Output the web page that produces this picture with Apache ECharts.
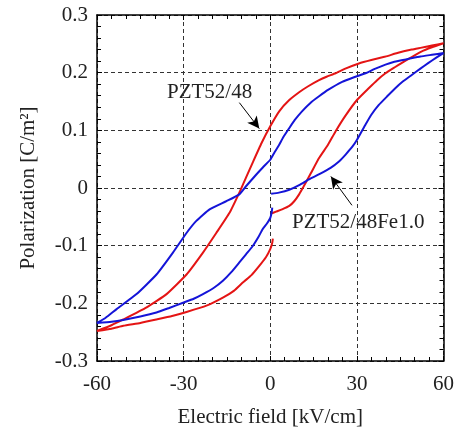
<!DOCTYPE html>
<html>
<head>
<meta charset="utf-8">
<script src="https://cdn.jsdelivr.net/npm/echarts@6/dist/echarts.min.js"></script>
<style>html,body{margin:0;padding:0;background:#fff;}#c{width:457px;height:433px;}</style>
</head>
<body>
<div id="c"></div>
<script>
// PZT52/48 (red) loop, measurement order
const redE = [0.5, 2, 4.1, 6.6, 8.3, 10, 11.5, 14, 16.9, 20, 22.6, 26, 30.1, 34.1, 37, 39.9, 43, 45.6, 49, 52.5, 56, 60,
  56, 52, 49, 44, 39.9, 35, 30.7, 26, 22.6, 19.5, 16.9, 13, 10, 6.5, 3.1, 0, -3, -6, -8.4, -10.7, -14.1, -18.7, -23.3, -29, -35.9, -42.8, -50.9, -55, -60,
  -55, -50.9, -45, -39.4, -34, -29, -22.1, -16.4, -12.5, -9.5, -6.5, -3.8, -1.5, 0, 0.7, 0.9];
const redP = [-0.044, -0.041, -0.037, -0.031, -0.023, -0.011, 0.002, 0.025, 0.052, 0.075, 0.098, 0.125, 0.153, 0.173, 0.187, 0.199, 0.209, 0.217, 0.227, 0.237, 0.244, 0.251,
  0.247, 0.243, 0.240, 0.234, 0.228, 0.222, 0.216, 0.207, 0.199, 0.193, 0.187, 0.176, 0.166, 0.152, 0.133, 0.107, 0.078, 0.045, 0.018, -0.008, -0.043, -0.078, -0.112, -0.150, -0.184, -0.207, -0.228, -0.238, -0.248,
  -0.244, -0.239, -0.234, -0.228, -0.222, -0.215, -0.204, -0.190, -0.178, -0.164, -0.151, -0.135, -0.120, -0.106, -0.095, -0.088];
// PZT52/48Fe1.0 (blue) loop, measurement order
const blueE = [0.3, 3, 6.6, 10, 13.4, 17, 20.9, 24, 26.1, 28.5, 30.1, 33, 35, 37.6, 40.5, 43.3, 46, 49, 52, 54.8, 57.5, 60,
  56, 52, 48, 43, 39.9, 36, 33, 29, 24.9, 20, 16.9, 14, 11, 8.5, 6.6, 4.5, 3.1, 1.5, 0, -2.5, -4.9, -8.4, -10.7, -15.3, -21, -25.6, -29, -33.7, -39.4, -46.3, -53.2, -57, -60,
  -55, -50.9, -45, -39.4, -35, -30.2, -26.5, -23.3, -19.5, -16.4, -13.5, -10.7, -8.4, -6.1, -4.2, -2.7, -1.2, 0, 0.5, 0.7];
const blueP = [-0.010, -0.008, -0.003, 0.005, 0.015, 0.024, 0.035, 0.047, 0.058, 0.072, 0.084, 0.110, 0.127, 0.144, 0.159, 0.173, 0.185, 0.196, 0.207, 0.217, 0.226, 0.234,
  0.231, 0.228, 0.224, 0.219, 0.214, 0.206, 0.199, 0.192, 0.184, 0.170, 0.159, 0.148, 0.133, 0.118, 0.104, 0.088, 0.075, 0.062, 0.049, 0.036, 0.023, 0.003, -0.011, -0.023, -0.037, -0.057, -0.078, -0.112, -0.150, -0.184, -0.210, -0.225, -0.234,
  -0.232, -0.229, -0.223, -0.216, -0.208, -0.199, -0.192, -0.184, -0.173, -0.161, -0.146, -0.129, -0.115, -0.101, -0.086, -0.072, -0.062, -0.052, -0.042, -0.034];
const xTicks = [-60, -30, 0, 30, 60];
const yTicks = [-0.3, -0.2, -0.1, 0, 0.1, 0.2, 0.3];
const labels = ['PZT52/48', 'PZT52/48Fe1.0'];
// arrows: [fromE, fromP, toE, toP]
const arrowRed = [-10.7, 0.148, -3.8, 0.103];
const arrowBlue = [28.3, -0.030, 21, 0.020];

const zip = (a, b) => a.map((v, i) => [v, b[i]]);
const FONT = '"Liberation Serif", "Times New Roman", serif';
const FS = 21;
const txt = '#222';

const chart = echarts.init(document.getElementById('c'), null, {renderer: 'canvas'});
const gridLine = {show: true, lineStyle: {color: '#333', width: 1, type: [4, 3]}};
const axisBase = (pos) => ({
  type: 'value', position: pos,
  axisLine: {show: true, onZero: false, lineStyle: {color: '#000', width: 1.5}},
  axisTick: {show: true, inside: true, length: 5, lineStyle: {color: '#000', width: 1}},
  minorSplitLine: {show: false}
});
const arrowLine = (a) => ({
  silent: true, symbol: ['none', 'arrow'], symbolSize: [9, 12],
  label: {show: false},
  lineStyle: {color: '#000', width: 1, type: 'solid'},
  data: [[{coord: [a[0], a[1]]}, {coord: [a[2], a[3]]}]]
});

chart.setOption({
  animation: false,
  backgroundColor: '#fff',
  grid: {left: 97, top: 15, right: 12, bottom: 71, containLabel: false},
  xAxis: [
    Object.assign(axisBase('bottom'), {
      min: xTicks[0], max: xTicks[xTicks.length - 1], interval: 30,
      minorTick: {show: true, splitNumber: 6, length: 4, lineStyle: {color: '#000'}},
      splitLine: gridLine,
      axisLabel: {color: txt, fontFamily: FONT, fontSize: FS, margin: 13},
      name: 'Electric field [kV/cm]', nameLocation: 'middle', nameGap: 46,
      nameTextStyle: {color: txt, fontFamily: FONT, fontSize: FS}
    }),
    Object.assign(axisBase('top'), {
      min: xTicks[0], max: xTicks[xTicks.length - 1], interval: 30,
      minorTick: {show: true, splitNumber: 6, length: 4, lineStyle: {color: '#000'}},
      splitLine: {show: false}, axisLabel: {show: false}
    })
  ],
  yAxis: [
    Object.assign(axisBase('left'), {
      min: yTicks[0], max: yTicks[yTicks.length - 1], interval: 0.1,
      minorTick: {show: true, splitNumber: 5, length: 4, lineStyle: {color: '#000'}},
      splitLine: gridLine,
      axisLabel: {color: txt, fontFamily: FONT, fontSize: FS, margin: 9,
        formatter: v => (Math.abs(v) < 1e-9 ? '0' : String(Math.round(v * 10) / 10))},
      name: 'Polarization [C/m²]', nameLocation: 'middle', nameGap: 58,
      nameTextStyle: {color: txt, fontFamily: FONT, fontSize: FS}
    }),
    Object.assign(axisBase('right'), {
      min: yTicks[0], max: yTicks[yTicks.length - 1], interval: 0.1,
      minorTick: {show: true, splitNumber: 5, length: 4, lineStyle: {color: '#000'}},
      splitLine: {show: false}, axisLabel: {show: false}
    })
  ],
  series: [
    {
      name: labels[0], type: 'line', xAxisIndex: 0, yAxisIndex: 0,
      data: zip(redE, redP), showSymbol: false, symbol: 'none', smooth: 0.15,
      lineStyle: {color: '#e41414', width: 2}, z: 3,
      markLine: arrowLine(arrowRed)
    },
    {
      name: labels[1], type: 'line', xAxisIndex: 0, yAxisIndex: 0,
      data: zip(blueE, blueP), showSymbol: false, symbol: 'none', smooth: 0.15,
      lineStyle: {color: '#1414d8', width: 2}, z: 4,
      markLine: arrowLine(arrowBlue)
    }
  ],
  graphic: [
    {type: 'text', left: 167, top: 82, style: {text: labels[0], fill: txt, font: FS + 'px ' + FONT}},
    {type: 'text', left: 292, top: 212, style: {text: labels[1], fill: txt, font: FS + 'px ' + FONT}}
  ]
});
</script>
</body>
</html>
